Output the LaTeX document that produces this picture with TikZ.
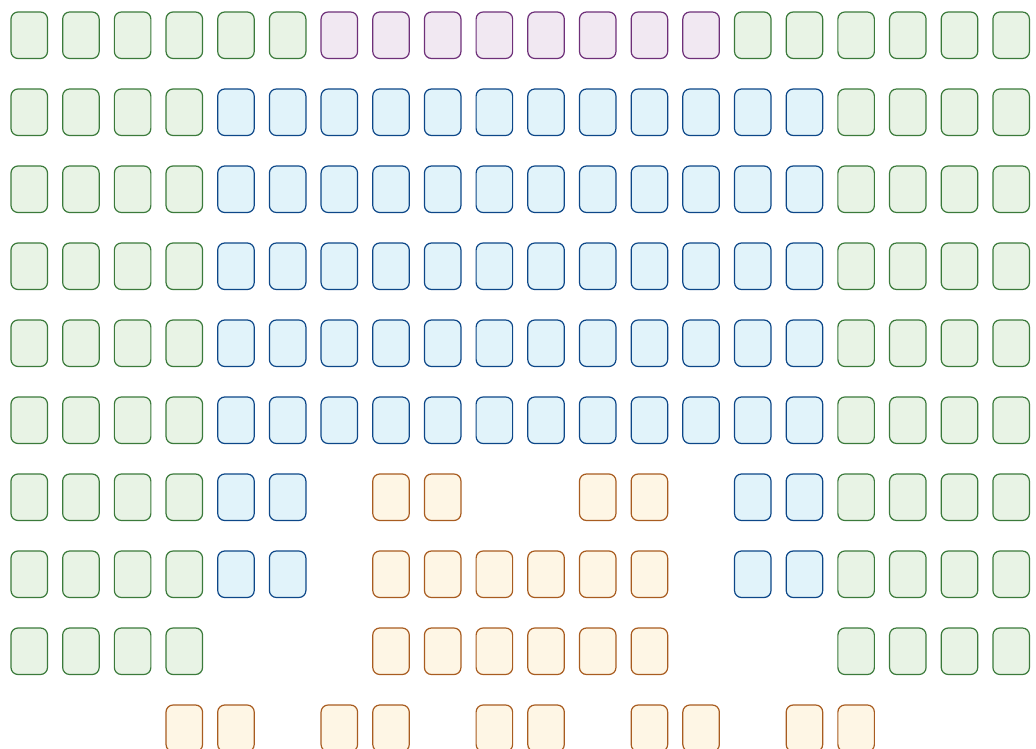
\documentclass[tikz,border=0pt]{standalone}
\usepackage{tikz}
\definecolor{gfill}{HTML}{E8F3E5}\definecolor{gline}{HTML}{3B7A3B}
\definecolor{pfill}{HTML}{F1E8F2}\definecolor{pline}{HTML}{6E3079}
\definecolor{bfill}{HTML}{E1F3FA}\definecolor{bline}{HTML}{0D4788}
\definecolor{ofill}{HTML}{FEF6E5}\definecolor{oline}{HTML}{A85C20}
\tikzset{
  seat/.style={rectangle, rounded corners=7pt, minimum width=36.5pt, minimum height=46.5pt, inner sep=0pt, line width=1.2pt},
  gseat/.style={seat, fill=gfill, draw=gline},
  pseat/.style={seat, fill=pfill, draw=pline},
  bseat/.style={seat, fill=bfill, draw=bline},
  oseat/.style={seat, fill=ofill, draw=oline},
}
\newcommand{\seatat}[3]{\node[#1] (s-#2-#3) at ({29.25pt+#3*51.68pt},{-35.25pt-#2*77pt}) {};}
\begin{document}
\begin{tikzpicture}
\useasboundingbox (0,0) rectangle (1036pt,-749pt);
% row 0
\foreach \c in {0,...,5,14,15,...,19} {\seatat{gseat}{0}{\c}}
\foreach \c in {6,...,13} {\seatat{pseat}{0}{\c}}
% rows 1-5
\foreach \r in {1,...,5} {
  \foreach \c in {0,...,3,16,17,18,19} {\seatat{gseat}{\r}{\c}}
  \foreach \c in {4,...,15} {\seatat{bseat}{\r}{\c}}
}
% row 6
\foreach \c in {0,...,3,16,17,18,19} {\seatat{gseat}{6}{\c}}
\foreach \c in {4,5,14,15} {\seatat{bseat}{6}{\c}}
\foreach \c in {7,8,11,12} {\seatat{oseat}{6}{\c}}
% row 7
\foreach \c in {0,...,3,16,17,18,19} {\seatat{gseat}{7}{\c}}
\foreach \c in {4,5,14,15} {\seatat{bseat}{7}{\c}}
\foreach \c in {7,...,12} {\seatat{oseat}{7}{\c}}
% row 8
\foreach \c in {0,...,3,16,17,18,19} {\seatat{gseat}{8}{\c}}
\foreach \c in {7,...,12} {\seatat{oseat}{8}{\c}}
% row 9
\foreach \c in {3,4,6,7,9,10,12,13,15,16} {\seatat{oseat}{9}{\c}}
\end{tikzpicture}
\end{document}
